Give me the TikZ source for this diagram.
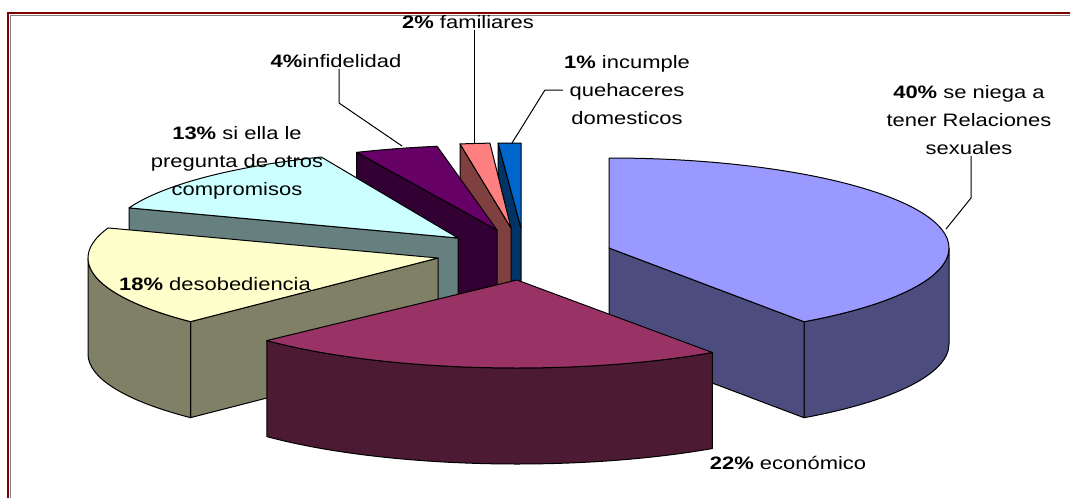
\documentclass[tikz,border=0pt]{standalone}
\usepackage{fontspec}
\setmainfont{Liberation Sans}[FakeStretch=1.22]
\usetikzlibrary{calc}
\definecolor{cAtop}{HTML}{9999FF}\definecolor{cAside}{HTML}{4C4C7F}
\definecolor{cBtop}{HTML}{993366}\definecolor{cBside}{HTML}{4C1A33}
\definecolor{cCtop}{HTML}{FFFFCC}\definecolor{cCside}{HTML}{808066}
\definecolor{cDtop}{HTML}{CCFFFF}\definecolor{cDside}{HTML}{668080}
\definecolor{cEtop}{HTML}{660066}\definecolor{cEside}{HTML}{330033}
\definecolor{cFtop}{HTML}{FF8080}\definecolor{cFside}{HTML}{804040}
\definecolor{cGtop}{HTML}{0066CC}\definecolor{cGside}{HTML}{003366}
\definecolor{framered}{HTML}{800000}
\newcommand{\pietop}[7]{%
 \filldraw[face,fill=#7] (#1,#2) -- ($(#1,#2)+(#5:#3 and #4)$) arc[start angle=#5,end angle=#6,x radius=#3,y radius=#4] -- cycle;}
\newcommand{\pieside}[8]{%
 \filldraw[face,fill=#8] ($(#1,#2)+(#6:#3 and #4)$) arc[start angle=#6,end angle=#7,x radius=#3,y radius=#4] -- ++(0,#5) arc[start angle=#7,end angle=#6,x radius=#3,y radius=#4] -- cycle;}
\newcommand{\pieradial}[7]{%
 \filldraw[face,fill=#7] (#1,#2) -- ($(#1,#2)+(#6:#3 and #4)$) -- ++(0,#5) -- ($(#1,#2)+(0,#5)$) -- cycle;}
\begin{document}
\begin{tikzpicture}[x=1pt,y=-1pt,
  face/.style={draw=black,line width=1pt,line join=round},
  lbl/.style={font=\fontsize{18}{28}\selectfont,align=center,inner sep=1pt},
  leader/.style={draw=black,line width=1pt}]
\useasboundingbox (0,0) rectangle (1070,498);
\fill[white] (0,0) rectangle (1070,498);
% frame
\draw[line width=2.5pt,color=framered] (8,498) -- (8,13.2) -- (1070,13.2);
\draw[line width=1pt,color=gray] (10.5,498) -- (10.5,15.5) -- (1070,15.5);
% 1%
\pieradial{521}{228}{345}{85}{96}{-93.8}{cGside}
\pietop{521}{228}{345}{85}{-93.8}{-90}{cGtop}
% 2%
\pieradial{511}{228}{345}{85}{96}{-98.5}{cFside}
\pietop{511}{228}{345}{85}{-98.5}{-93.5}{cFtop}
% 4%
\pieradial{497}{230}{345}{85}{96}{-114}{cEside}
\pietop{497}{230}{345}{85}{-114}{-100}{cEtop}
% 13%
\pieradial{458}{238}{350}{88}{96}{-160}{cDside}
\pietop{458}{238}{350}{88}{-160}{-113}{cDtop}
% 40%
\pieside{609}{248}{340}{90}{96}{0}{55}{cAside}
\pieradial{609}{248}{340}{90}{96}{55}{cAside}
\pietop{609}{248}{340}{90}{-90}{55}{cAtop}
% 18%
\pieradial{438}{258}{350}{90}{96}{135}{cCside}
\pieside{438}{258}{350}{90}{96}{135}{180}{cCside}
\pietop{438}{258}{350}{90}{135}{199.5}{cCtop}
% 22%
\pieside{517}{280}{345}{88}{96}{55.5}{136.5}{cBside}
\pietop{517}{280}{345}{88}{55.5}{136.5}{cBtop}
% labels
\node[lbl] (l40) at (969,120) {\textbf{40\%} se niega a\\tener Relaciones\\sexuales};
\node[lbl] (l22) at (788,463) {\textbf{22\%} económico};
\node[lbl] (l18) at (215,284) {\textbf{18\%} desobediencia};
\node[lbl] (l13) at (237,163) {\textbf{13\%} si ella le\\pregunta de otros\\compromisos};
\node[lbl] (l4) at (336,61) {\textbf{4\%}infidelidad};
\node[lbl] (l2) at (468,22) {\textbf{2\%} familiares};
\node[lbl] (l1) at (627,90) {\textbf{1\%} incumple\\quehaceres\\domesticos};
% leader ends
\coordinate (k40) at (946,229);
\coordinate (b40) at (971,198);
\coordinate (k4) at (402,146);
\coordinate (b4) at (339,103);
\coordinate (k2) at (474,143);
\coordinate (k1) at (512,143);
\draw[leader] (l40.south -| b40) -- (b40) -- (k40);
\draw[leader] (l4.south -| b4) -- (b4) -- (k4);
\draw[leader] (l2.south -| k2) -- (k2);
\draw[leader] (l1.west) -- ++(-18,0) -- (k1);
\end{tikzpicture}
\end{document}
